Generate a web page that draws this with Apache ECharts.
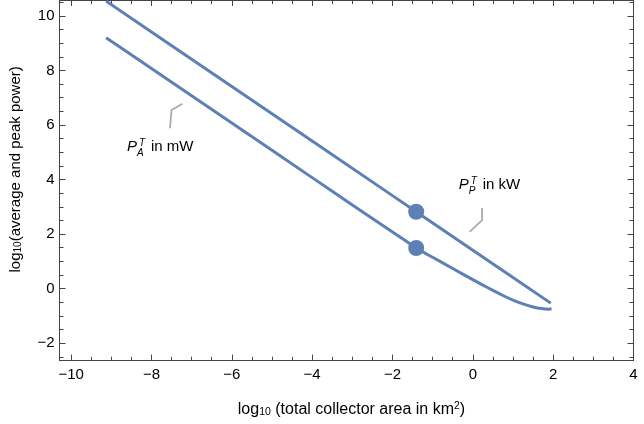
<!DOCTYPE html>
<html><head><meta charset="utf-8">
<script src="https://cdn.jsdelivr.net/npm/echarts@6/dist/echarts.min.js"></script>
<style>html,body{margin:0;padding:0;background:#fff}#c{width:644px;height:424px}</style>
</head><body><div id="c"></div>
<script>
// ---- data ----
const peakX = [-9.13, -8, -6, -4, -2, -1.41, 0, 1, 1.94];
const peakY = [10.54, 9.41, 7.41, 5.41, 3.41, 2.82, 1.41, 0.41, -0.53];
const avgX = [-9.13, -8, -6, -4, -3, -2, -1.7, -1.41, -1.2, -1, -0.5, 0, 0.25, 0.5, 0.75, 1, 1.25, 1.5, 1.65, 1.8, 1.9, 1.96];
const avgY = [9.2, 8.07, 6.07, 4.07, 3.07, 2.08, 1.78, 1.49, 1.31, 1.15, 0.74, 0.33, 0.13, -0.065, -0.25, -0.42, -0.56, -0.67, -0.72, -0.745, -0.75, -0.735];
const markerX = [-1.41, -1.41];
const markerY = [2.82, 1.49];
const xTickLabels = [-10, -8, -6, -4, -2, 0, 2, 4];
const yTickLabels = [-2, 0, 2, 4, 6, 8, 10];
const calloutAX = [-7.23, -7.50, -7.54];
const calloutAY = [6.78, 6.55, 5.88];
const calloutPX = [0.23, 0.23, -0.08];
const calloutPY = [2.96, 2.51, 2.08];
const labelAPos = [-8.61, 5.20];
const labelPPos = [-0.35, 3.80];

const XMIN = -10.29, XMAX = 4, YMIN = -2.64, YMAX = 10.58;
const FONT = 'Liberation Sans, Arial, sans-serif';
const LINE = '#5E81B5';
const AX = '#444';

function minorTicks(lo, hi, step, majors) {
  const out = [];
  for (let v = lo; v <= hi + 1e-9; v += step) {
    const r = Math.round(v * 100) / 100;
    if (majors.indexOf(r) < 0) out.push(r);
  }
  return out;
}
const xMinor = minorTicks(-10, 4, 0.5, xTickLabels);
const yMinor = minorTicks(-2.5, 10.5, 0.5, yTickLabels);
const fmt = v => (v < 0 ? '\u2212' + Math.abs(v) : String(v));

function zip(a, b) { return a.map((v, i) => [v, b[i]]); }

function axisBase(kind, pos, ticks, len, labels) {
  const isX = kind === 'x';
  return {
    type: 'value', position: pos,
    min: isX ? XMIN : YMIN, max: isX ? XMAX : YMAX,
    axisLine: { show: true, onZero: false, lineStyle: { color: AX, width: 1 } },
    axisTick: { show: true, inside: true, length: len, customValues: ticks, lineStyle: { color: AX, width: 1 } },
    axisLabel: labels ? { show: true, customValues: ticks, formatter: fmt, fontSize: 15, color: '#000', fontFamily: FONT, margin: isX ? 7 : 5 } : { show: false },
    splitLine: { show: false }, minorTick: { show: false }
  };
}

const xa0 = axisBase('x', 'bottom', xTickLabels, 6, true);
xa0.name = 'log{sub|10} (total collector area in km{sup|2})';
xa0.nameLocation = 'middle';
xa0.nameGap = 40;
xa0.nameTextStyle = { fontSize: 16, color: '#000', fontFamily: FONT, padding: [0, 0, 0, 10],
  rich: { sub: { fontSize: 10.5, fontFamily: FONT, color: '#000', verticalAlign: 'bottom', padding: [6, 0, 0, 0] },
          sup: { fontSize: 10.5, fontFamily: FONT, color: '#000', verticalAlign: 'top', padding: [0, 0, 6, 0] } } };

const ya0 = axisBase('y', 'left', yTickLabels, 6, true);
ya0.name = 'log{sub|10}(average and peak power)';
ya0.nameLocation = 'middle';
ya0.nameRotate = 90;
ya0.nameGap = 36;
ya0.nameTextStyle = { fontSize: 15, color: '#000', fontFamily: FONT, padding: [0, 0, 0, 22],
  rich: { sub: { fontSize: 10, fontFamily: FONT, color: '#000', verticalAlign: 'bottom', padding: [6, 0, 0, 0] } } };

const option = {
  animation: false,
  backgroundColor: '#fff',
  grid: { left: 58, right: 10.5, top: 0, bottom: 63.3, containLabel: false },
  xAxis: [
    xa0,
    axisBase('x', 'bottom', xMinor, 4, false),
    axisBase('x', 'top', xTickLabels, 6, false),
    axisBase('x', 'top', xMinor, 4, false)
  ],
  yAxis: [
    ya0,
    axisBase('y', 'left', yMinor, 4, false),
    axisBase('y', 'right', yTickLabels, 6, false),
    axisBase('y', 'right', yMinor, 4, false)
  ],
  series: [
    { type: 'line', name: 'peak', data: zip(peakX, peakY), showSymbol: false, silent: true,
      lineStyle: { color: LINE, width: 3 }, z: 3 },
    { type: 'line', name: 'average', data: zip(avgX, avgY), showSymbol: false, smooth: 0.2, silent: true,
      lineStyle: { color: LINE, width: 3 }, z: 3 },
    { type: 'scatter', data: zip(markerX, markerY), symbolSize: 16, itemStyle: { color: LINE, opacity: 1 }, z: 4, silent: true },
    { type: 'line', data: zip(calloutAX, calloutAY), showSymbol: false, silent: true, lineStyle: { color: '#aaa', width: 1.8 }, z: 2 },
    { type: 'line', data: zip(calloutPX, calloutPY), showSymbol: false, silent: true, lineStyle: { color: '#aaa', width: 1.8 }, z: 2 }
  ]
};

const chart = echarts.init(document.getElementById('c'), null, { renderer: 'canvas' });
chart.setOption(option);

function labelGroup(pos, sub, rest) {
  const p = chart.convertToPixel({ seriesIndex: 0 }, pos);
  const st = (t, size, italic) => ({ text: t, fontSize: size, fontStyle: italic ? 'italic' : 'normal', fontFamily: FONT, fill: '#000', verticalAlign: 'middle', align: 'left' });
  return {
    type: 'group', x: p[0], y: p[1], silent: true,
    children: [
      { type: 'text', x: 0, y: 0, style: st('P', 15, true) },
      { type: 'text', x: 12, y: -4, style: st('T', 10, true) },
      { type: 'text', x: 10, y: 6.5, style: st(sub, 10, true) },
      { type: 'text', x: 24, y: 0, style: st(rest, 15, false) }
    ]
  };
}
chart.setOption({ graphic: [labelGroup(labelAPos, 'A', 'in mW'), labelGroup(labelPPos, 'P', 'in kW')] });
</script></body></html>
